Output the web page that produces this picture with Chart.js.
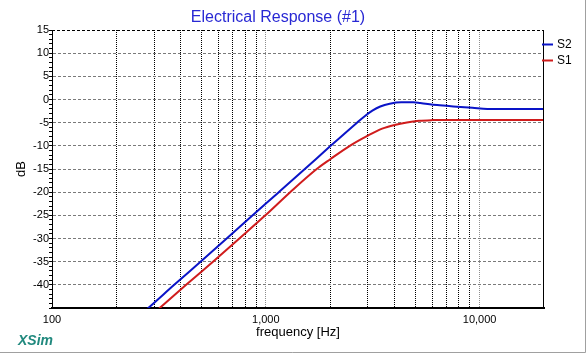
<!DOCTYPE html>
<html><head><meta charset="utf-8">
<script src="https://cdn.jsdelivr.net/npm/chart.js@4.4.0/dist/chart.umd.min.js"></script>
<style>html,body{margin:0;padding:0;background:#fff;overflow:hidden}canvas{display:block}</style>
</head><body>
<canvas id="c" width="587" height="356"></canvas>
<script>
const chartTitle = 'Electrical Response (#1)';
const xAxisTitle = 'frequency [Hz]';
const yAxisTitle = 'dB';
const brandText = 'XSim';
const seriesNames = ['S2', 'S1'];
const seriesColors = ['#0A14C8', '#D01C1C'];

const freqS2 = [260, 282, 373, 495, 656, 868, 1150, 1522, 2010, 2670, 2900, 3150, 3430, 3800, 4300, 4900, 5270, 6330, 7530, 9250, 10870, 20000];
const dbS2   = [-46.4, -45, -40, -35, -30, -25, -20, -15, -10, -5, -3.6, -2.4, -1.5, -0.9, -0.6, -0.6, -0.75, -1.2, -1.5, -1.8, -2.05, -2.05];

const freqS1 = [300, 319, 424, 566, 752, 995, 1300, 1730, 2000, 2470, 3000, 3500, 4000, 4570, 5200, 6000, 7000, 20000];
const dbS1   = [-46.1, -45, -40, -35, -30, -25, -20, -15, -12.9, -10, -7.8, -6.3, -5.5, -4.95, -4.6, -4.45, -4.4, -4.4];

const xGridValues = [100, 200, 300, 400, 500, 600, 700, 800, 900, 1000, 2000, 3000, 4000, 5000, 6000, 7000, 8000, 9000, 10000, 20000];
const xDecadeValues = [1000, 10000];
const xLabelValues = [100, 1000, 10000];
const xLabelTexts = ['100', '1,000', '10,000'];
const yLabelValues = [15, 10, 5, 0, -5, -10, -15, -20, -25, -30, -35, -40];
const xMin = 100, xMax = 20000, yMin = -45, yMax = 15;

const FONT = '"Liberation Sans", Arial, sans-serif';
Chart.defaults.font.family = FONT;

const decor = {
  id: 'decor',
  beforeDraw(chart) {
    const c = chart.ctx;
    c.save();
    c.fillStyle = '#fff';
    c.fillRect(0, 0, chart.width, chart.height);
    c.restore();
  },
  afterDraw(chart) {
    const c = chart.ctx;
    const a = chart.chartArea;
    c.save();
    c.strokeStyle = '#000';
    c.lineWidth = 1;
    c.setLineDash([3, 2]);
    c.beginPath(); c.moveTo(a.left, Math.round(a.top) + 0.5); c.lineTo(a.right, Math.round(a.top) + 0.5); c.stroke();
    c.setLineDash([]);
    c.beginPath(); c.moveTo(Math.round(a.right) - 0.5, a.top); c.lineTo(Math.round(a.right) - 0.5, a.bottom); c.stroke();
    c.strokeStyle = '#A0A0A0';
    c.beginPath(); c.moveTo(0, 352.5); c.lineTo(585.5, 352.5); c.lineTo(585.5, 0); c.stroke();
    c.fillStyle = '#2828D4';
    c.font = '16px ' + FONT;
    c.textAlign = 'center';
    c.textBaseline = 'alphabetic';
    c.fillText(chartTitle, 278, 22);
    c.fillStyle = '#21897E';
    c.font = 'italic bold 14px ' + FONT;
    c.textAlign = 'left';
    c.fillText(brandText, 18, 345);
    c.font = '12px ' + FONT;
    c.textBaseline = 'middle';
    chart.data.datasets.forEach((ds, i) => {
      const y = 44.5 + i * 16;
      c.strokeStyle = ds.borderColor;
      c.lineWidth = 2;
      c.beginPath(); c.moveTo(542, y); c.lineTo(553, y); c.stroke();
      c.fillStyle = '#000';
      c.fillText(ds.label, 557, y + 0.5);
    });
    c.restore();
  }
};

new Chart(document.getElementById('c'), {
  type: 'line',
  data: {
    datasets: [
      { label: seriesNames[0], data: freqS2.map((f, i) => ({ x: f, y: dbS2[i] })), borderColor: seriesColors[0] },
      { label: seriesNames[1], data: freqS1.map((f, i) => ({ x: f, y: dbS1[i] })), borderColor: seriesColors[1] }
    ].map(d => Object.assign(d, { borderWidth: 2, pointRadius: 0, fill: false, cubicInterpolationMode: 'monotone', clip: 0 }))
  },
  options: {
    responsive: false,
    animation: false,
    devicePixelRatio: 1,
    events: [],
    layout: { padding: { top: 30, right: 43, bottom: 0, left: 0 } },
    plugins: { legend: { display: false }, title: { display: false }, tooltip: { enabled: false } },
    scales: {
      x: {
        type: 'logarithmic', min: xMin, max: xMax, position: 'bottom',
        afterBuildTicks: s => { s.ticks = xGridValues.map(v => ({ value: v })); },
        afterFit: s => { s.height = 48; },
        ticks: {
          autoSkip: false, maxRotation: 0, minRotation: 0, padding: 5, color: '#000',
          font: { size: 11 },
          callback: v => { const i = xLabelValues.indexOf(v); return i >= 0 ? xLabelTexts[i] : ''; }
        },
        grid: {
          drawTicks: false, lineWidth: 1,
          color: c => {
            const v = c.tick ? c.tick.value : 0;
            if (v === xMin || v === xMax) return 'rgba(0,0,0,0)';
            return xDecadeValues.includes(v) ? '#8C8C8C' : '#000';
          }
        },
        border: { display: true, color: '#000', width: 2, dash: [1, 1] },
        title: { display: true, text: xAxisTitle, color: '#000', font: { size: 13 }, padding: { top: 0, bottom: 16 } }
      },
      y: {
        type: 'linear', min: yMin, max: yMax, position: 'left',
        afterFit: s => { s.width = 52; },
        ticks: {
          stepSize: 1, autoSkip: false, padding: 0, color: '#000', font: { size: 11 },
          callback: v => yLabelValues.includes(Math.round(v)) ? String(Math.round(v)) : ''
        },
        grid: {
          drawTicks: true, tickLength: 3, tickWidth: 1, tickColor: '#000', tickBorderDash: [], lineWidth: 1,
          color: c => {
            const v = c.tick ? Math.round(c.tick.value) : 0;
            if (v === yMin || v === yMax) return 'rgba(0,0,0,0)';
            return v % 5 === 0 ? '#7A7A7A' : 'rgba(0,0,0,0)';
          }
        },
        border: { display: true, color: '#000', width: 1, dash: [3, 2] },
        title: { display: true, text: yAxisTitle, color: '#000', font: { size: 13 }, padding: { top: 14, bottom: 0 } }
      }
    }
  },
  plugins: [decor]
});
</script>
</body></html>
